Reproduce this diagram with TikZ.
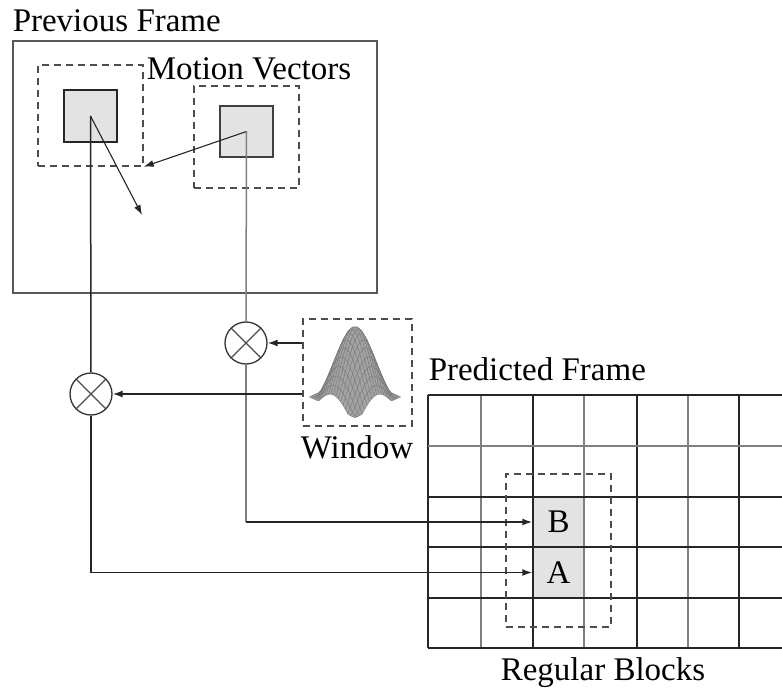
\documentclass[tikz,border=0pt]{standalone}
\usepackage{fontspec}
\setmainfont{Liberation Serif}
\usepackage{tikz}
\usetikzlibrary{arrows.meta}

% one point of the gaussian window surface, u,v in [-1,1]
\newcommand\gxy[2]{({355+24*(#1)-24*(#2)},{398+11*(#1)+11*(#2)-71*max(0,exp(-1.5*((#1)*(#1)+(#2)*(#2)))-0.14*((#1)*(#1)+(#2)*(#2)))})}

\begin{document}
\begin{tikzpicture}[x=1pt, y=-1pt, line width=1.5pt,
    font=\fontsize{33}{36}\selectfont,
    >={Latex[length=10pt,width=7pt]},
    framebox/.style={draw=black!65, line width=1.8pt, inner sep=0pt},
    dashbox/.style={draw=black!70, dashed, dash pattern=on 7pt off 5pt, line width=1.5pt, inner sep=0pt},
    blockbox/.style={draw=black!85, fill=black!11, line width=1.5pt, inner sep=0pt, minimum size=52pt},
    mulnode/.style={circle, draw=black!80, line width=1.3pt, minimum size=42pt, inner sep=0pt},
    cellbox/.style={fill=black!11, inner sep=0pt, minimum width=51pt, minimum height=50pt},
    link/.style={black!85, line width=1.5pt},
    graylink/.style={black!50, line width=1.5pt}]
  \useasboundingbox (0,0) rectangle (782,690);

  % previous frame
  \node[anchor=base west, inner sep=0pt] (prevlabel) at (12,32) {Previous Frame};
  \node[framebox, minimum width=364pt, minimum height=252pt] (prevframe) at (195,167) {};
  \node[dashbox, minimum width=105pt, minimum height=101pt] (leftwin) at (90.5,115.5) {};
  \node[dashbox, minimum width=105pt, minimum height=102pt] (rightwin) at (246.5,137) {};
  \node[blockbox, minimum width=53pt] (leftblk) at (90.5,116) {};
  \node[blockbox, minimum width=53pt, minimum height=51pt, draw=black!75] (rightblk) at (246.5,131.5) {};
  \node[anchor=base west, inner sep=0pt, fill=white] (mvlabel) at (146,80) {Motion Vectors};
  \coordinate (mvend) at (142,215);

  % window
  \node[dashbox, minimum width=109pt, minimum height=107pt] (window) at (357.5,372.5) {};
  \foreach \u in {-1,-0.9,...,0.85} {
    \foreach \v in {-1,-0.9,...,0.85} {
      \pgfmathsetmacro\uu{\u+0.1}
      \pgfmathsetmacro\vv{\v+0.1}
      \filldraw[fill=black!36, draw=black!52, line width=0.35pt]
        \gxy{\u}{\v} -- \gxy{\uu}{\v} -- \gxy{\uu}{\vv} -- \gxy{\u}{\vv} -- cycle;
    }
  }
  \node[anchor=base, inner sep=0pt] (winlabel) at (357,458) {Window};

  % multipliers
  \node[mulnode] (mulR) at (246,343) {};
  \node[mulnode] (mulL) at (91,394) {};
  \foreach \m in {mulR, mulL} {
    \draw[black!70, line width=1.1pt] (\m.north west) -- (\m.south east);
    \draw[black!70, line width=1.1pt] (\m.north east) -- (\m.south west);
  }

  % predicted frame
  \node[anchor=base west, inner sep=0pt] (predlabel) at (428,380) {Predicted Frame};
  \node[cellbox] (B) at (558.5,522) {B};
  \node[cellbox] (A) at (558.5,572.5) {A};
  \foreach \x in {481,584,688}
    \draw[black!50] (\x,395) -- (\x,648);
  \foreach \x in {428,533,637,739}
    \draw[black!85] (\x,395) -- (\x,648);
  \draw[black!50] (428,446) -- (782,446);
  \foreach \y in {395,497,547,598,648}
    \draw[black!85] (428,\y) -- (782,\y);
  \node[dashbox, minimum width=105pt, minimum height=153pt] (predwin) at (558.5,550.5) {};
  \node[anchor=base, inner sep=0pt] (reglabel) at (603,680) {Regular Blocks};

  % motion vectors
  \draw[->, black!85, line width=1.1pt] (leftblk.center) -- (mvend);
  \draw[->, black!85, line width=1.1pt] (rightblk.center) -- (leftwin.south east);

  % connectors
  \draw[link] (leftblk.center) -- (mulL.north);
  \draw[link, ->] (mulL.south) |- (A.west);
  \draw[graylink] (rightblk.center) -- (mulR.north);
  \draw[graylink] (mulR.south) -- (mulR.south |- B.west);
  \draw[link, ->] (mulR.south |- B.west) -- (B.west);
  \draw[link, ->] (window.west |- mulR) -- (mulR.east);
  \draw[link, ->] (window.west |- mulL) -- (mulL.east);
\end{tikzpicture}
\end{document}
